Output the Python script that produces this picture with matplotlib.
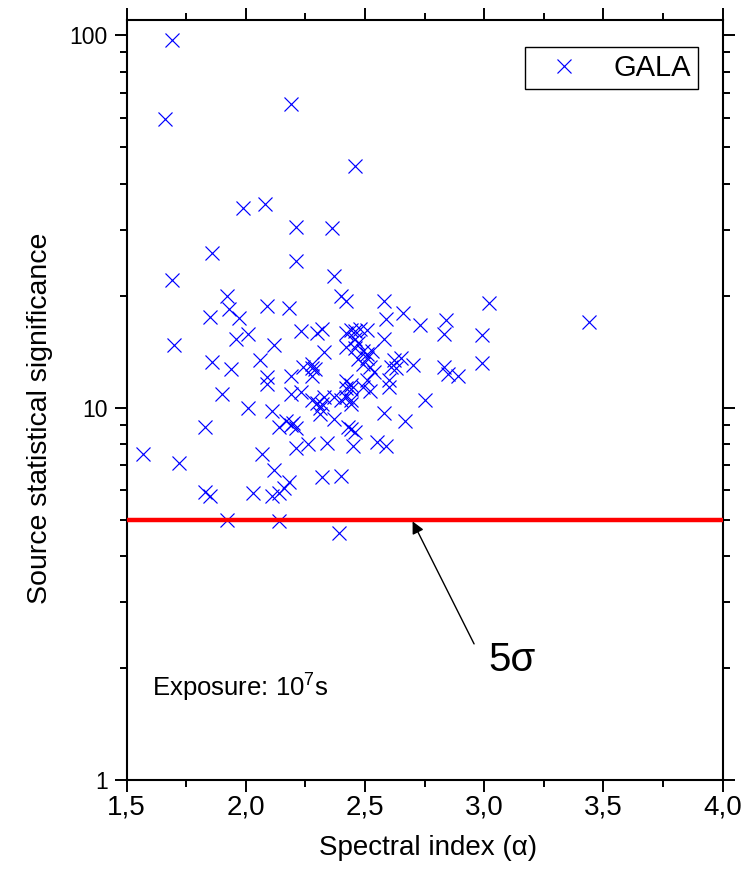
import matplotlib
matplotlib.use("Agg")
import matplotlib.pyplot as plt
from matplotlib.ticker import FixedLocator, FuncFormatter, LogLocator, NullFormatter

plt.rcParams['font.family'] = ['Liberation Sans', 'DejaVu Sans']
plt.rcParams['mathtext.fontset'] = 'custom'
plt.rcParams['mathtext.rm'] = 'Liberation Sans'

# Spectral index and significance of each source
alpha = [
    1.69, 1.66, 2.19, 2.46, 1.99, 2.08, 2.21, 2.36, 1.86, 2.21,
    1.69, 2.37, 1.92, 2.40, 2.42, 2.58, 3.02, 2.09, 2.18, 1.93,
    2.66, 1.85, 1.97, 2.59, 2.84, 3.44, 2.73, 2.23, 2.30, 2.32,
    2.42, 2.44, 2.46, 2.48, 2.51, 2.83, 2.99, 2.01, 1.96, 2.58,
    1.70, 2.12, 2.42, 2.46, 2.47, 2.46, 2.33, 2.49, 2.51, 2.53,
    2.51, 2.47, 2.49, 2.52, 2.54, 2.06, 1.86, 1.94, 2.24, 2.28,
    2.28, 2.29, 2.28, 2.19, 2.09, 2.09, 2.62, 2.65, 2.61, 2.63,
    2.70, 2.83, 2.85, 2.89, 2.99, 2.42, 2.44, 2.42, 2.51, 2.49,
    2.60, 2.60, 2.44, 2.37, 2.40, 2.42, 2.44, 2.52, 2.75, 2.32,
    2.44, 2.58, 2.67, 2.37, 2.43, 2.44, 2.46, 2.34, 2.45, 2.55,
    2.59, 2.32, 2.40, 2.39, 1.90, 2.01, 2.11, 2.19, 2.23, 2.28,
    2.30, 2.31, 2.31, 2.33, 1.83, 2.14, 2.17, 2.19, 2.20, 2.21,
    2.07, 2.21, 2.26, 1.57, 1.72, 2.12, 2.18, 2.16, 2.14, 2.11,
    2.03, 1.83, 1.85, 1.92, 2.14,
]
sigma = [
    97.1, 59.5, 65.5, 44.6, 34.3, 35.2, 30.6, 30.3, 26.1, 24.8,
    22.0, 22.6, 20.0, 19.9, 19.4, 19.3, 19.1, 18.7, 18.5, 18.4,
    18.0, 17.5, 17.4, 17.3, 17.2, 17.0, 16.7, 16.1, 15.9, 16.3,
    15.9, 16.2, 16.1, 16.3, 16.2, 15.8, 15.7, 15.8, 15.3, 15.3,
    14.7, 14.7, 14.6, 15.3, 14.9, 14.5, 14.1, 14.2, 13.9, 14.2,
    13.6, 13.5, 13.1, 12.9, 12.5, 13.4, 13.3, 12.7, 12.9, 13.1,
    12.8, 12.7, 12.2, 12.2, 12.1, 11.6, 13.4, 13.6, 12.9, 12.8,
    13.0, 12.9, 12.3, 12.2, 13.2, 11.8, 11.5, 11.3, 11.9, 11.4,
    11.9, 11.4, 11.2, 10.7, 10.5, 10.7, 10.5, 11.1, 10.5, 10.2,
    10.2, 9.7, 9.2, 9.3, 8.9, 8.75, 8.6, 8.05, 7.9, 8.1,
    7.9, 6.5, 6.55, 4.6, 10.9, 10.0, 9.8, 10.9, 11.0, 10.5,
    10.3, 10.0, 9.6, 10.7, 8.9, 8.9, 9.2, 9.0, 9.1, 8.8,
    7.5, 7.8, 8.0, 7.5, 7.1, 6.8, 6.3, 6.1, 5.9, 5.8,
    5.9, 5.95, 5.8, 5.0, 4.95,
]

threshold = 5.0
x_ticks = [1.5, 2.0, 2.5, 3.0, 3.5, 4.0]
y_ticks = [1, 10, 100]

fig = plt.figure(figsize=(7.53, 8.74), dpi=100)
ax = fig.add_axes([0.168, 0.1076, 0.7915, 0.8695])

ax.plot(alpha, sigma, 'x', ls='none', color='#0000ff', ms=9.5, mew=0.85, label='GALA')
ax.axhline(threshold, color='#ff0000', lw=3.2, zorder=3)

ax.set_yscale('log')
ax.set_xlim(1.5, 4.0)
ax.set_ylim(1, 110)

ax.xaxis.set_major_locator(FixedLocator(x_ticks))
ax.xaxis.set_minor_locator(FixedLocator([1.75, 2.25, 2.75, 3.25, 3.75]))
ax.xaxis.set_major_formatter(FuncFormatter(lambda v, p: f"{v:.1f}".replace('.', ',')))
ax.yaxis.set_major_locator(FixedLocator(y_ticks))
ax.yaxis.set_minor_locator(LogLocator(base=10, subs=range(2, 10)))
ax.yaxis.set_major_formatter(FuncFormatter(lambda v, p: f"{v:g}"))
ax.yaxis.set_minor_formatter(NullFormatter())

for s in ax.spines.values():
    s.set_linewidth(1.5)
ax.tick_params(which='both', direction='out', top=True, right=True, width=1.4)
ax.tick_params(which='major', length=8.4)
ax.tick_params(which='minor', length=5)
ax.tick_params(axis='x', labelsize=20, pad=2)
ax.tick_params(axis='y', labelsize=16.5, pad=5)

ax.set_xlabel('Spectral index (α)', fontsize=20)
ax.set_ylabel('Source statistical significance', fontsize=20.5)
ax.xaxis.set_label_coords(0.506, -0.072)
ax.yaxis.set_label_coords(-0.123, 0.476)

ax.text(1.606, 1.69, 'Exposure: 10$^{\\mathrm{7}}$s', fontsize=18.5, va='baseline')
ax.annotate('', xy=(2.70, 4.95), xytext=(2.958, 2.32),
            arrowprops=dict(arrowstyle='-|>', color='black', lw=1.0,
                            mutation_scale=18, shrinkA=0, shrinkB=0))
ax.text(3.016, 1.965, '5σ', fontsize=29, va='baseline')

leg = ax.legend(loc='upper right', bbox_to_anchor=(0.9594, 0.9649), borderaxespad=0,
                fontsize=21, fancybox=False, edgecolor='black', framealpha=1,
                borderpad=0.25, handlelength=2.19, handletextpad=0.6)
leg.get_frame().set_linewidth(1.0)

fig.savefig('out.png', dpi=100)
